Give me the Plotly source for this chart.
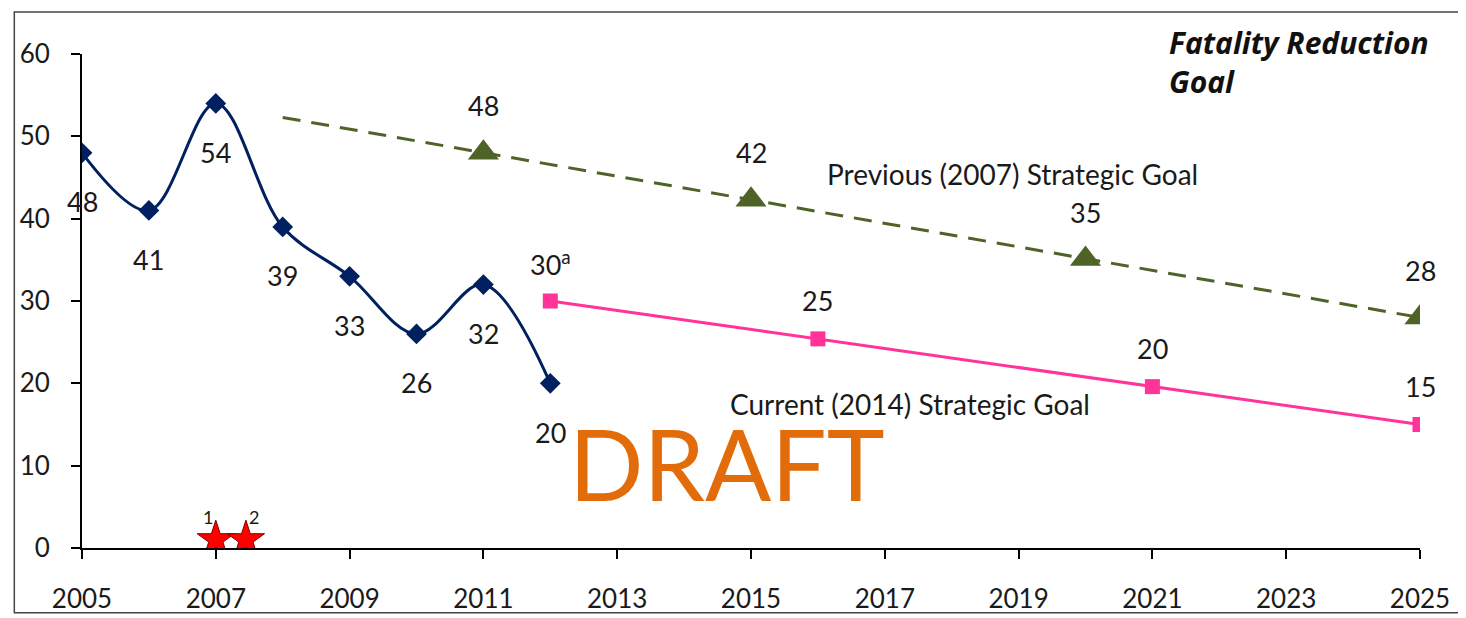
import plotly.graph_objects as go

# actual fatalities
actual_years = [2005, 2006, 2007, 2008, 2009, 2010, 2011, 2012]
actual_vals = [48, 41, 54, 39, 33, 26, 32, 20]

# previous (2007) strategic goal
prev_line_years = [2008, 2011, 2015, 2020, 2025]
prev_line_vals = [52.3, 48, 42.3, 35.1, 28]
prev_goal_years = [2011, 2015, 2020, 2025]
prev_goal_vals = [48, 42.3, 35.1, 28]
prev_goal_labels = ['48', '42', '35', '28']

# current (2014) strategic goal
curr_goal_years = [2012, 2016, 2021, 2025]
curr_goal_vals = [30, 25.4, 19.6, 15]
curr_goal_labels = ['30<sup>a</sup>', '25', '20', '15']

# star markers
star_years = [2007, 2007.45]
star_vals = [1, 1]
star_labels = ['1', '2']

x_ticks = list(range(2005, 2026, 2))
y_ticks = [0, 10, 20, 30, 40, 50, 60]

FONT = 'Lato'
NAVY = '#002060'
OLIVE = '#4F6228'
PINK = '#FF3399'
TEXT = '#1a1a1a'

fig = go.Figure()

fig.add_trace(go.Scatter(
    x=actual_years, y=actual_vals,
    mode='lines+markers',
    line=dict(color=NAVY, width=3, shape='spline', smoothing=1),
    marker=dict(symbol='diamond', size=16, color=NAVY),
    hoverinfo='skip'
))

fig.add_trace(go.Scatter(
    x=prev_line_years, y=prev_line_vals,
    mode='lines',
    line=dict(color=OLIVE, width=3, dash='18px,11px'),
    hoverinfo='skip'
))
fig.add_trace(go.Scatter(
    x=prev_goal_years, y=prev_goal_vals,
    mode='markers',
    marker=dict(symbol='triangle-up', size=27, color=OLIVE),
    hoverinfo='skip'
))

fig.add_trace(go.Scatter(
    x=curr_goal_years, y=curr_goal_vals,
    mode='lines+markers',
    line=dict(color=PINK, width=3),
    marker=dict(symbol='square', size=15, color=PINK),
    hoverinfo='skip'
))

fig.add_trace(go.Scatter(
    x=star_years, y=star_vals,
    mode='markers',
    marker=dict(symbol='star', size=28, color='#FF0000',
                line=dict(color='#7F0000', width=1)),
    hoverinfo='skip'
))

annotations = []
label_font = dict(family=FONT, size=27, color=TEXT)

# data labels below the actual series
for x, v in zip(actual_years, actual_vals):
    annotations.append(dict(x=x, y=v, text=str(v), showarrow=False,
                            yshift=-49, font=label_font))

for x, v, t in zip(prev_goal_years, prev_goal_vals, prev_goal_labels):
    annotations.append(dict(x=x, y=v, text=t, showarrow=False,
                            yshift=47, font=label_font))

for x, v, t in zip(curr_goal_years, curr_goal_vals, curr_goal_labels):
    annotations.append(dict(x=x, y=v, text=t, showarrow=False,
                            yshift=38, font=label_font))

for x, v, t, dx in zip(star_years, star_vals, star_labels, [-8, 8]):
    annotations.append(dict(x=x, y=v, text=t, showarrow=False,
                            xshift=dx, yshift=23,
                            font=dict(family=FONT, size=18, color=TEXT)))

annotations += [
    dict(x=2016.1, y=45.4, text='Previous (2007) Strategic Goal', showarrow=False,
         xanchor='left', font=dict(family=FONT, size=28, color=TEXT)),
    dict(x=2014.65, y=17.5, text='Current (2014) Strategic Goal', showarrow=False,
         xanchor='left', font=dict(family=FONT, size=28, color=TEXT)),
    dict(x=2012.25, y=10.3, text='DRAFT', showarrow=False, xanchor='left',
         font=dict(family=FONT, size=98, color='#E36C0A')),
    dict(x=0.811, xref='paper', y=1.068, yref='paper', xanchor='left', yanchor='top',
         align='left', showarrow=False,
         text='<b><i>Fatality Reduction<br>Goal</i></b>',
         font=dict(family='Open Sans', size=30, color='#111111')),
]

fig.update_layout(
    width=1466, height=618,
    margin=dict(l=69, r=54, t=46, b=77),
    paper_bgcolor='white',
    plot_bgcolor='white',
    showlegend=False,
    font=dict(family=FONT, color=TEXT),
    annotations=annotations,
    shapes=[dict(type='rect', xref='paper', yref='paper',
                 x0=-0.0506, x1=1.031, y0=-0.131, y1=1.085,
                 line=dict(color='#444444', width=1.5))],
    xaxis=dict(range=[2005, 2025], tickvals=x_ticks, ticktext=[str(t) for t in x_ticks],
               showgrid=False, zeroline=False, showline=True, linecolor='black',
               linewidth=2, ticks='outside', ticklen=9, tickwidth=2, tickcolor='black',
               tickfont=dict(family=FONT, size=26, color=TEXT),
               ticklabelstandoff=18),
    yaxis=dict(range=[0, 60], tickvals=y_ticks, showgrid=False, zeroline=False,
               showline=True, linecolor='black', linewidth=2, ticks='outside',
               ticklen=9, tickwidth=2, tickcolor='black',
               tickfont=dict(family=FONT, size=26, color=TEXT),
               ticklabelstandoff=16),
)

fig.write_html('out.html')
